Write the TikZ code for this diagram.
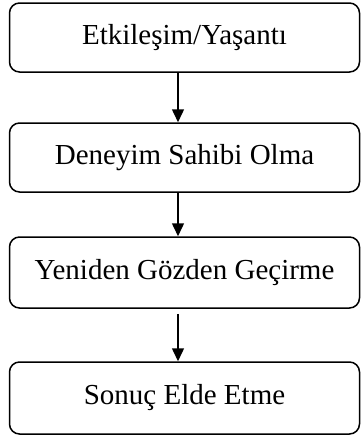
\documentclass[tikz,border=0pt]{standalone}
\usepackage{fontspec}
\setmainfont{Liberation Serif}
\usetikzlibrary{arrows.meta}
\begin{document}
\begin{tikzpicture}[x=1pt,y=-1pt,
  stage/.style={draw=black, line width=1.5pt, rounded corners=10pt,
    minimum width=350pt, inner sep=0pt, font=\fontsize{29}{33}\selectfont},
  flow/.style={line width=1.5pt, -{Triangle[width=12pt,length=13pt]}}]
\useasboundingbox (0,0) rectangle (361,439);
\node[stage, minimum height=69pt] (s1) at (184.5,37.5) {Etkileşim/Yaşantı};
\node[stage, minimum height=69pt] (s2) at (184.5,157.5) {Deneyim Sahibi Olma};
\node[stage, minimum height=71pt] (s3) at (184.5,272.5) {Yeniden Gözden Geçirme};
\node[stage, minimum height=72pt] (s4) at (184.5,398) {Sonuç Elde Etme};
\coordinate (ax) at (178,0);
\draw[flow] (s1.south -| ax) -- (s2.north -| ax);
\draw[flow] (s2.south -| ax) -- (s3.north -| ax);
\draw[flow, shorten <=5pt] (s3.south -| ax) -- (s4.north -| ax);
\end{tikzpicture}
\end{document}
